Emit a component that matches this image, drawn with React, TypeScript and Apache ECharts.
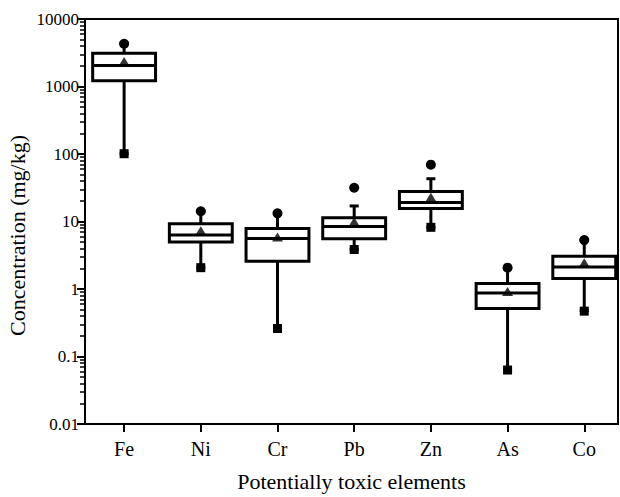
import React, { useEffect, useRef } from 'react';
import * as echarts from 'echarts';

const categories = ['Fe', 'Ni', 'Cr', 'Pb', 'Zn', 'As', 'Co'];
const positions = [1, 2, 3, 4, 5, 6, 7];
const whiskerLow = [101, 2.07, 0.26, 3.85, 8.2, 0.063, 0.48];
const q1 = [1217, 4.96, 2.58, 5.55, 15.6, 0.515, 1.43];
const median = [2046, 6.3, 5.6, 8.4, 19.2, 0.87, 2.12];
const q3 = [3120, 9.23, 7.9, 11.4, 27.8, 1.21, 3.05];
const whiskerHigh = [4300, 14.2, 13.2, 17.0, 43.0, 2.07, 5.3];
const means = [2340, 7.3, 5.9, 9.9, 22.9, 0.92, 2.44];
const maxima = [4300, 14.2, 13.2, 31.6, 69.5, 2.07, 5.3];
const minima = [101, 2.07, 0.26, 3.85, 8.2, 0.063, 0.47];
const yTickLabels = ['0.01', '0.1', '1', '10', '100', '1000', '10000'];
const decades = [0.01, 0.1, 1, 10, 100, 1000];
const minorMultipliers = [2, 3, 4, 5, 6, 7, 8, 9];

const FONT = 'Liberation Serif';
const X_MIN = 0.49;
const X_MAX = 7.44;
const Y_MIN = 0.01;
const Y_MAX = 10000;

export default function App() {
  const ref = useRef<HTMLDivElement>(null);
  useEffect(() => {
    if (!ref.current) return;
    const chart = echarts.init(ref.current, null, { renderer: 'svg' });
    const minorVals: number[] = [];
    decades.forEach((d) => minorMultipliers.forEach((mm) => minorVals.push(d * mm)));

    const option: any = {
      animation: false,
      backgroundColor: '#fff',
      grid: {
        left: 85,
        right: 2,
        top: 19,
        bottom: 63,
        show: true,
        borderColor: '#000',
        borderWidth: 2,
        backgroundColor: 'transparent',
      },
      xAxis: {
        type: 'value',
        min: X_MIN,
        max: X_MAX,
        axisLine: { show: true, onZero: false, lineStyle: { color: '#000', width: 2 } },
        axisTick: {
          show: true,
          length: 8,
          inside: false,
          customValues: positions,
          lineStyle: { color: '#000', width: 2 },
        },
        axisLabel: {
          fontSize: 20,
          fontFamily: FONT,
          color: '#000',
          margin: 15,
          customValues: positions,
          formatter: (v: number) => {
            const idx = positions.indexOf(Math.round(v * 1000) / 1000);
            return idx >= 0 ? categories[idx] : '';
          },
        },
        splitLine: { show: false },
        name: 'Potentially toxic elements',
        nameLocation: 'middle',
        nameGap: 46,
        nameTextStyle: { fontSize: 22, fontFamily: FONT, color: '#000' },
      },
      yAxis: [
        {
          type: 'log',
          logBase: 10,
          position: 'left',
          min: Y_MIN,
          max: Y_MAX,
          splitNumber: 6,
          interval: 1,
          axisLine: { show: true, lineStyle: { color: '#000', width: 2 } },
          axisTick: { show: true, length: 8, inside: false, lineStyle: { color: '#000', width: 2 } },
          axisLabel: {
            fontSize: 17,
            fontFamily: FONT,
            color: '#000',
            margin: 6,
            formatter: (v: number) => yTickLabels[Math.round(Math.log10(v)) + 2] ?? String(v),
          },
          splitLine: { show: false },
          z: 3,
        },
        {
          type: 'log',
          logBase: 10,
          position: 'left',
          offset: 0,
          min: Y_MIN,
          max: Y_MAX,
          axisLine: { show: false },
          axisLabel: { show: false },
          splitLine: { show: false },
          axisTick: {
            show: true,
            length: 5,
            inside: false,
            customValues: minorVals,
            lineStyle: { color: '#000', width: 1.5 },
          },
          z: 3,
        },
      ],
      series: [
        {
          type: 'custom',
          silent: true,
          yAxisIndex: 0,
          data: positions.map((p, i) => [p, whiskerLow[i], q1[i], median[i], q3[i], whiskerHigh[i]]),
          encode: { x: 0, y: [1, 2, 3, 4, 5] },
          renderItem: (params: any, api: any) => {
            const px = api.value(0);
            const lo = api.coord([px, api.value(1)]);
            const a = api.coord([px, api.value(2)]);
            const m = api.coord([px, api.value(3)]);
            const b = api.coord([px, api.value(4)]);
            const hi = api.coord([px, api.value(5)]);
            const unit = api.size([1, 1], [px, 1])[0];
            const hw = unit * 0.41;
            const cw = 4.5;
            const x = lo[0];
            const ls = { stroke: '#000', lineWidth: 3 };
            return {
              type: 'group',
              children: [
                { type: 'line', shape: { x1: x, y1: b[1], x2: x, y2: hi[1] }, style: ls },
                { type: 'line', shape: { x1: x, y1: a[1], x2: x, y2: lo[1] }, style: ls },
                { type: 'line', shape: { x1: x - cw, y1: hi[1], x2: x + cw, y2: hi[1] }, style: ls },
                { type: 'line', shape: { x1: x - cw, y1: lo[1], x2: x + cw, y2: lo[1] }, style: ls },
                {
                  type: 'rect',
                  shape: { x: x - hw, y: b[1], width: 2 * hw, height: a[1] - b[1] },
                  style: { fill: '#fff', stroke: '#000', lineWidth: 3 },
                },
                { type: 'line', shape: { x1: x - hw, y1: m[1], x2: x + hw, y2: m[1] }, style: ls },
              ],
            };
          },
        },
        {
          type: 'scatter',
          silent: true,
          yAxisIndex: 0,
          data: means.map((v, i) => [positions[i], v]),
          symbol: 'triangle',
          symbolSize: [11, 9],
          itemStyle: { color: '#000' },
          z: 5,
        },
        {
          type: 'scatter',
          silent: true,
          yAxisIndex: 0,
          data: maxima.map((v, i) => [positions[i], v]),
          symbol: 'circle',
          symbolSize: 10,
          itemStyle: { color: '#000', opacity: 1 },
          z: 5,
        },
        {
          type: 'scatter',
          silent: true,
          yAxisIndex: 0,
          data: minima.map((v, i) => [positions[i], v]),
          symbol: 'rect',
          symbolSize: 9,
          itemStyle: { color: '#000', opacity: 1 },
          z: 5,
        },
      ],
    };
    chart.setOption(option);

    const ptB = chart.convertToPixel({ gridIndex: 0 }, [X_MIN, Y_MIN]) as number[];
    const ptT = chart.convertToPixel({ gridIndex: 0 }, [X_MIN, Y_MAX]) as number[];
    chart.setOption({
      graphic: {
        elements: [
          {
            type: 'text',
            x: 17,
            y: (ptT[1] + ptB[1]) / 2 + 14,
            rotation: Math.PI / 2,
            style: {
              text: 'Concentration (mg/kg)',
              font: `22px "${FONT}"`,
              fill: '#000',
              align: 'center',
              verticalAlign: 'middle',
            },
          },
        ],
      },
    });
    return () => chart.dispose();
  }, []);
  return <div ref={ref} style={{ position: 'fixed', left: 0, top: 0, width: 620, height: 497, background: '#fff' }} />;
}
